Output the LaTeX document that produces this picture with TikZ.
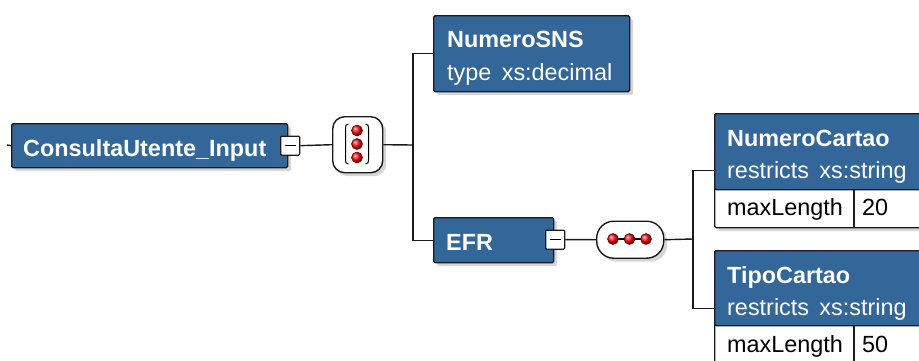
\documentclass[tikz,border=0pt]{standalone}
\usepackage{fontspec}
\setmainfont{Liberation Sans}
\usetikzlibrary{shadows}
\definecolor{hdr}{HTML}{336699}
\definecolor{edge}{HTML}{1A1A1A}
\tikzset{
  shd/.style={drop shadow={shadow xshift=3.5pt, shadow yshift=-3.5pt, fill=black!45, opacity=0.35}},
  boxbase/.style={draw=edge, line width=1.4pt, rounded corners=1.5pt, anchor=north west, inner sep=0pt},
  hdrbox/.style={boxbase, fill=hdr},
  whitebox/.style={boxbase, fill=white},
  minusbox/.style={draw=edge, line width=1.3pt, fill=white, rounded corners=1pt, anchor=north west, inner sep=0pt, minimum width=19pt, minimum height=19pt},
  comp/.style={draw=edge, line width=1.4pt, fill=white, anchor=north west, inner sep=0pt},
  conn/.style={draw=edge, line width=1.4pt},
  bold/.style={anchor=base west, inner sep=0pt, text=white, font=\fontsize{23.4}{28}\selectfont\bfseries},
  reg/.style={anchor=base west, inner sep=0pt, text=white, font=\fontsize{23.4}{28}\selectfont},
  cell/.style={anchor=base west, inner sep=0pt, text=black, font=\fontsize{23.4}{28}\selectfont},
  dot/.style={circle, inner sep=0pt, minimum size=11pt, ball color=red!95!white, draw=red!35!black, line width=0.5pt},
}
\begin{document}
\begin{tikzpicture}[x=1pt,y=-1pt]
\useasboundingbox (0,0) rectangle (919,360);
\fill[white] (0,0) rectangle (919,360);
\clip (0,0) rectangle (919,360);

% root
\coordinate (stub) at (7,145);
\node[hdrbox, shd, minimum width=276pt, minimum height=44pt] (root) at (11,123) {};
\node[bold] (rootlbl) at (23,156) {ConsultaUtente\_Input};
\node[minusbox] (rootm) at (280,135.5) {};
\draw[line width=1.5pt] ([xshift=-5.5pt]rootm.center) -- ([xshift=5.5pt]rootm.center);
\draw[conn] (stub) -- (root.west);

% choice compositor
\node[comp, shd, rounded corners=12pt, minimum width=50pt, minimum height=56pt] (choice) at (332,116) {};
\draw[conn] (rootm.east) -- (choice.west);
\draw[line width=1pt] (348.5,124) .. controls (345.5,124) and (345.5,126) .. (345.5,129) -- (345.5,159) .. controls (345.5,162) and (345.5,164) .. (348.5,164);
\draw[line width=1pt] (365.5,124) .. controls (368.5,124) and (368.5,126) .. (368.5,129) -- (368.5,159) .. controls (368.5,162) and (368.5,164) .. (365.5,164);
\node[dot] (c1) at (357,130.5) {};
\node[dot] (c2) at (357,144) {};
\node[dot] (c3) at (357,157.5) {};

% junction 1
\coordinate (j1) at (413,145);

% NumeroSNS
\node[hdrbox, shd, minimum width=196pt, minimum height=76pt] (sns) at (433,15) {};
\node[bold] (snsl1) at (447,47) {NumeroSNS};
\node[reg] (snsl2) at (447,80) {type\, xs:decimal};

% EFR
\node[hdrbox, shd, minimum width=120pt, minimum height=45pt] (efr) at (433,217) {};
\node[bold] (efrl) at (446,250) {EFR};
\node[minusbox] (efrm) at (545,229.5) {};
\draw[line width=1.5pt] ([xshift=-5.5pt]efrm.center) -- ([xshift=5.5pt]efrm.center);

\draw[conn] (choice.east) -- (j1);
\draw[conn] (j1) |- (sns.west);
\draw[conn] (j1) |- (efr.west);

% sequence compositor
\node[comp, shd, rounded corners=17pt, minimum width=67pt, minimum height=37pt] (seq) at (596,220.5) {};
\draw[conn] (efrm.east) -- (seq.west);
\coordinate (sa) at (608,239);
\coordinate (sb) at (651,239);
\draw[line width=1.2pt] (sa) -- (sb);
\node[dot] (s1) at (613,239) {};
\node[dot] (s2) at (629.5,239) {};
\node[dot] (s3) at (646,239) {};

\coordinate (j2) at (693,239);
\draw[conn] (seq.east) -- (j2);

% NumeroCartao
\node[whitebox, shd, minimum width=260pt, minimum height=114pt] (nc) at (714,113) {};
\node[hdrbox, minimum width=260pt, minimum height=76pt] (nch) at (714,113) {};
\draw[conn] (854,189) -- (854,227);
\node[bold] (ncl1) at (727,146) {NumeroCartao};
\node[reg] (ncl2) at (727,178) {restricts\, xs:string};
\node[cell] (ncc1) at (727,215) {maxLength};
\node[cell] (ncc2) at (862,215) {20};

% TipoCartao
\node[whitebox, shd, minimum width=260pt, minimum height=116pt] (tc) at (714,250) {};
\node[hdrbox, minimum width=260pt, minimum height=75pt] (tch) at (714,250) {};
\draw[conn] (854,325) -- (854,370);
\node[bold] (tcl1) at (727,283) {TipoCartao};
\node[reg] (tcl2) at (727,315) {restricts\, xs:string};
\node[cell] (tcc1) at (727,352) {maxLength};
\node[cell] (tcc2) at (862,352) {50};

\draw[conn] (j2) |- (nc.west);
\draw[conn] (j2) |- (tc.west);
\end{tikzpicture}
\end{document}
